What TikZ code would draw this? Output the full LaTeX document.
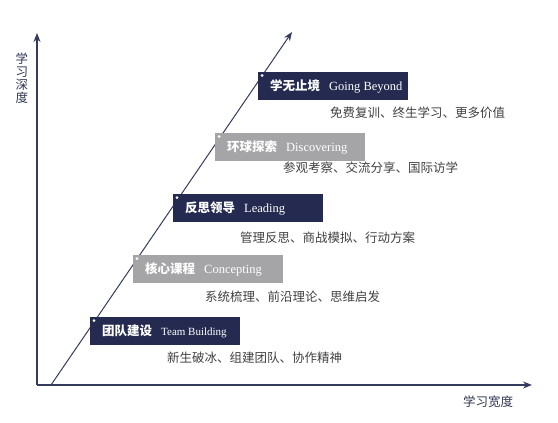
\documentclass[tikz,border=0pt]{standalone}
\usepackage{fontspec}
\setmainfont{Liberation Serif}
\newfontfamily\cjk{Noto Sans CJK SC}
\usetikzlibrary{arrows.meta}
\definecolor{navy}{HTML}{252B50}
\definecolor{boxgray}{HTML}{A5A5A8}
\definecolor{axiscol}{HTML}{343B5E}
\definecolor{subtxt}{HTML}{404040}
\definecolor{labcol}{HTML}{2F3552}
\begin{document}
\begin{tikzpicture}[x=1pt,y=-1pt,
  axisline/.style={draw=axiscol, line width=1.2pt, -{Stealth[length=9pt,width=7pt]}},
  stagebox/.style={anchor=north west, minimum width=150pt, minimum height=28pt,
    inner xsep=12pt, inner ysep=0pt, text=white},
  darkbox/.style={stagebox, fill=navy},
  graybox/.style={stagebox, fill=boxgray},
  subline/.style={anchor=west, inner sep=0pt, text=subtxt, font=\cjk\fontsize{12.5}{14}\selectfont},
  axlabel/.style={inner sep=0pt, text=labcol, font=\cjk\fontsize{12.5}{13.2}\selectfont},
  dot/.style={circle, fill=white, inner sep=0pt, minimum size=3pt}]
\useasboundingbox (0,0) rectangle (558,423);
\coordinate (o) at (37,385);
\coordinate (ytip) at (37,33);
\coordinate (xtip) at (532,385);
\coordinate (ds) at (51,385);
\coordinate (de) at (292,32);
\draw[axisline] (o) -- (ytip);
\draw[axisline] (o) -- (xtip);
\draw[axisline, line width=1pt] (ds) -- (de);

\node[axlabel, align=center] (ylab) at (22,78) {学\\习\\深\\度};
\node[axlabel] (xlab) at (488,402) {学习宽度};

\newcommand{\stagetext}[3]{\makebox[126pt][l]{{\cjk\bfseries\fontsize{12.5}{14}\selectfont #1}\hspace{9pt}{\fontsize{#3}{14}\selectfont #2}}}

\node[darkbox] (b1) at (258,72) {\stagetext{学无止境}{Going Beyond}{12.5}};
\node[graybox] (b2) at (215,133) {\stagetext{环球探索}{Discovering}{12.5}};
\node[darkbox] (b3) at (173,194) {\stagetext{反思领导}{Leading}{12.5}};
\node[graybox] (b4) at (133,255) {\stagetext{核心课程}{Concepting}{12.5}};
\node[darkbox] (b5) at (90,317) {\stagetext{团队建设}{Team Building}{11}};

\foreach \b in {b1,b2,b3,b4,b5}{
  \node[dot] (\b dot) at ([xshift=4pt,yshift=-3.5pt]\b.north west) {};
}

\node[subline] (s1) at (330,113) {免费复训、终生学习、更多价值};
\node[subline] (s2) at (283,168) {参观考察、交流分享、国际访学};
\node[subline] (s3) at (240,238) {管理反思、商战模拟、行动方案};
\node[subline] (s4) at (205,297) {系统梳理、前沿理论、思维启发};
\node[subline] (s5) at (167,358) {新生破冰、组建团队、协作精神};
\end{tikzpicture}
\end{document}
